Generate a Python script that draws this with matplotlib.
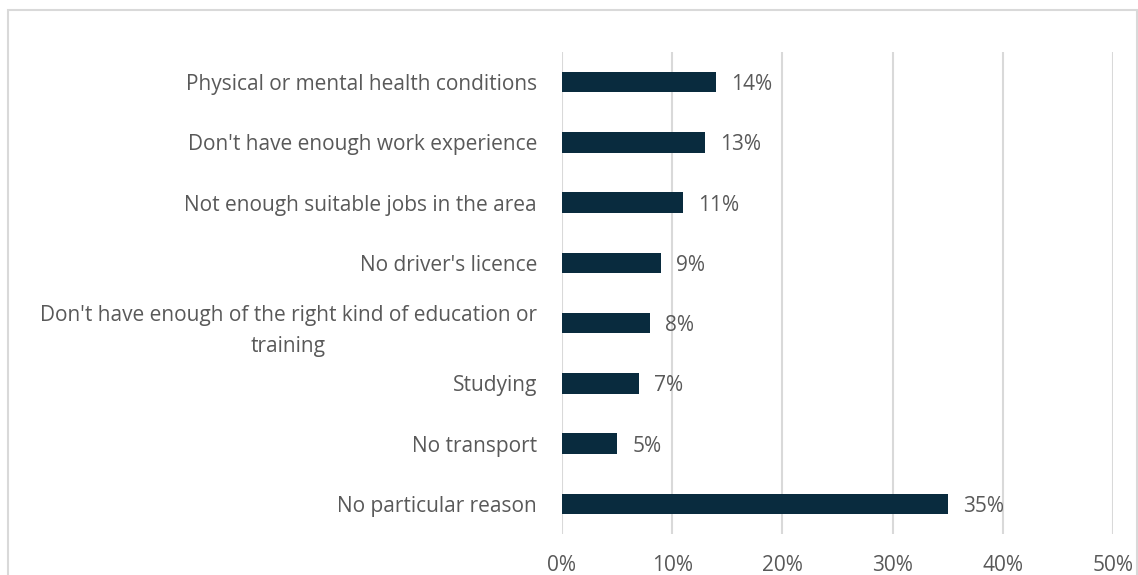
import matplotlib.pyplot as plt
from matplotlib.patches import Rectangle
from matplotlib.ticker import PercentFormatter

# Reasons, top to bottom
reasons = [
    "Physical or mental health conditions",
    "Don't have enough work experience",
    "Not enough suitable jobs in the area",
    "No driver's licence",
    "Don't have enough of the right kind of education or\ntraining",
    "Studying",
    "No transport",
    "No particular reason",
]
shares = [14, 13, 11, 9, 8, 7, 5, 35]
x_ticks = [0, 10, 20, 30, 40, 50]

bar_color = "#092b3e"
text_color = "#595959"
grid_color = "#d9d9d9"
fs = 15

plt.rcParams["font.family"] = ["Open Sans", "DejaVu Sans"]

fig = plt.figure(figsize=(11.38, 5.75), dpi=100)
ax = fig.add_axes([0.4938, 0.0713, 0.4842, 0.8383])

ypos = list(range(len(reasons)))
ax.barh(ypos, shares, height=0.34, color=bar_color, zorder=3)
ax.set_ylim(len(reasons) - 0.5, -0.5)
ax.set_xlim(0, 50)

for y, v in zip(ypos, shares):
    ax.annotate(f"{v}%", (v, y), xytext=(11, 0), textcoords="offset points",
                va="center_baseline", ha="left", fontsize=fs, color=text_color)

ax.set_yticks(ypos)
ax.set_yticklabels(reasons, fontsize=fs, color=text_color,
                   multialignment="center", linespacing=1.65)
ax.set_xticks(x_ticks)
ax.xaxis.set_major_formatter(PercentFormatter(decimals=0))
ax.tick_params(axis="x", length=0, pad=15, labelsize=fs, labelcolor=text_color)
ax.tick_params(axis="y", length=0, pad=18)

ax.grid(axis="x", color=grid_color, linewidth=1.5, zorder=0)
for side in ax.spines.values():
    side.set_visible(False)

# light outer frame
fig.patches.append(Rectangle((8 / 1138, -0.05), 1129 / 1138, 1.05 - 10 / 575,
                             transform=fig.transFigure, fill=False,
                             edgecolor=grid_color, linewidth=1.5))

fig.savefig("out.png", dpi=100)
